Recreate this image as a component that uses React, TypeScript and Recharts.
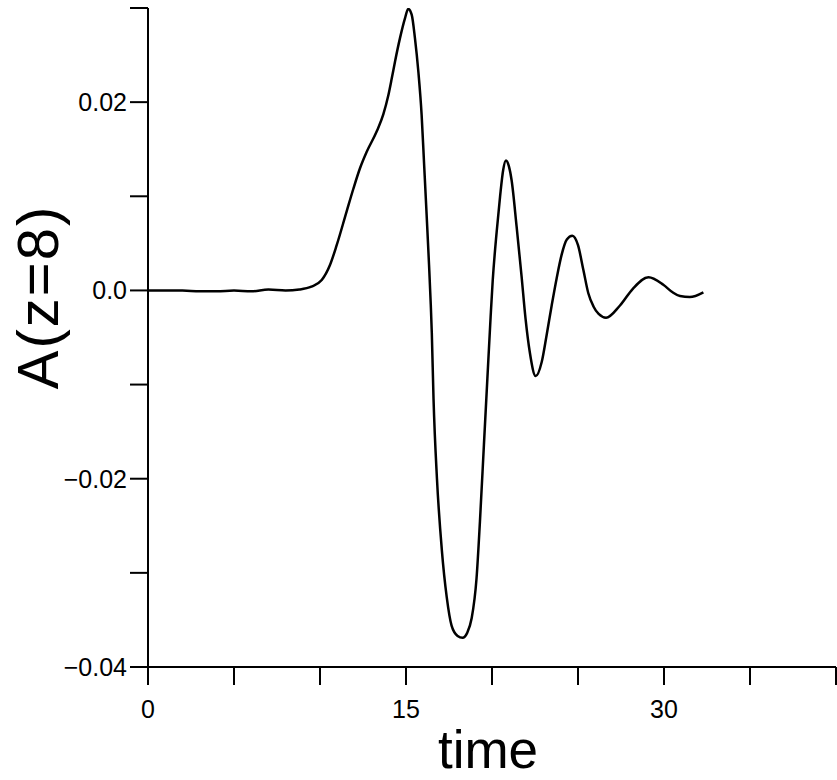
import React from "react";
import { Label, Line, LineChart, XAxis, YAxis } from "recharts";

// time samples (non-uniform, denser where the wave moves fast)
const times = [
  0, 1, 2, 3, 4, 5, 6, 7, 8, 8.8, 9.5, 10.1, 10.58, 10.97, 11.55, 11.94, 12.33, 12.71,
  13.3, 13.68, 13.97, 14.17, 14.36, 14.65, 14.94, 15.13, 15.33, 15.52, 15.72, 15.91,
  16.05, 16.2, 16.34, 16.44, 16.5, 16.6, 16.8, 17.08, 17.37, 17.65, 18.0, 18.29, 18.55,
  18.82, 19.1, 19.3, 19.53, 19.73, 19.92, 20.04, 20.27, 20.47, 20.65, 20.81, 20.98,
  21.14, 21.43, 21.72, 21.95, 22.2, 22.54, 22.89, 23.18, 23.47, 23.76, 24.05, 24.35,
  24.67, 25.0, 25.31, 25.6, 25.9, 26.2, 26.63, 27.44, 28.2, 29.1, 29.96, 30.5, 30.93,
  31.5, 32.29,
];

// A(z=8)
const amplitude = [
  0, 0, 0, -0.0001, -0.0001, 0, -0.0001, 0.0001, 0, 0.0001, 0.0004, 0.0011, 0.0027,
  0.0048, 0.0084, 0.0108, 0.013, 0.0147, 0.0169, 0.0187, 0.0207, 0.0225, 0.0243, 0.0268,
  0.0289, 0.0299, 0.0293, 0.0268, 0.0232, 0.0186, 0.0135, 0.008, 0.0027, -0.0015,
  -0.0045, -0.0115, -0.02, -0.0275, -0.0326, -0.0356, -0.0367, -0.0369, -0.0364,
  -0.0348, -0.0306, -0.0245, -0.0164, -0.0094, -0.0028, 0.001, 0.0062, 0.01, 0.0128,
  0.0138, 0.0132, 0.0117, 0.0068, 0.0015, -0.003, -0.0066, -0.0091, -0.0076, -0.0047,
  -0.0016, 0.0013, 0.0038, 0.0054, 0.0058, 0.0048, 0.0022, -0.0003, -0.0017, -0.0025,
  -0.0029, -0.0016, 0.0002, 0.0014, 0.0006, -0.0002, -0.0006, -0.0007, -0.0002,
];

const xTicks = [0, 5, 10, 15, 20, 25, 30, 35, 40];
const xLabelled = [0, 15, 30];
const yTicks = [-0.04, -0.03, -0.02, -0.01, 0, 0.01, 0.02, 0.03];
const yTickLabels = ["\u22120.04", "", "\u22120.02", "", "0.0", "", "0.02", ""];

const data = times.map((t, i) => ({ t, a: amplitude[i] }));

const font = "'Liberation Sans', Arial, sans-serif";

export default function App() {
  return (
    <div style={{ position: "absolute", left: 0, top: 0, background: "#fff" }}>
      <LineChart width={837} height={780} data={data} margin={{ top: 8, right: 1, bottom: 0, left: 0 }}>
        <XAxis
          dataKey="t"
          type="number"
          domain={[0, 40]}
          ticks={xTicks}
          tickFormatter={(v) => (xLabelled.includes(v) ? String(v) : "")}
          height={113}
          tickSize={18}
          tickMargin={15}
          stroke="#000"
          strokeWidth={2}
          tick={{ fill: "#000", fontSize: 25, fontFamily: font }}
        >
          <Label
            content={(props: any) => {
              const vb = props.viewBox || { x: 148, y: 667, width: 688 };
              return (
                <text
                  x={vb.x + vb.width / 2 - 4}
                  y={vb.y + 101}
                  textAnchor="middle"
                  fontSize={53}
                  fontFamily={font}
                  fill="#000"
                >
                  time
                </text>
              );
            }}
          />
        </XAxis>
        <YAxis
          type="number"
          domain={[-0.04, 0.03]}
          ticks={yTicks}
          tickFormatter={(v, i) => yTickLabels[i] ?? ""}
          width={148}
          tickSize={18}
          tickMargin={3}
          stroke="#000"
          strokeWidth={2}
          tick={{ fill: "#000", fontSize: 25, fontFamily: font }}
          allowDataOverflow
        >
          <Label
            content={() => (
              <text
                x={58}
                y={297}
                transform="rotate(-90 58 297)"
                textAnchor="middle"
                fontSize={58}
                letterSpacing={2}
                fontFamily={font}
                fill="#000"
              >
                A(z=8)
              </text>
            )}
          />
        </YAxis>
        <Line
          type="monotone"
          dataKey="a"
          stroke="#000"
          strokeWidth={2.5}
          dot={false}
          isAnimationActive={false}
        />
      </LineChart>
    </div>
  );
}
